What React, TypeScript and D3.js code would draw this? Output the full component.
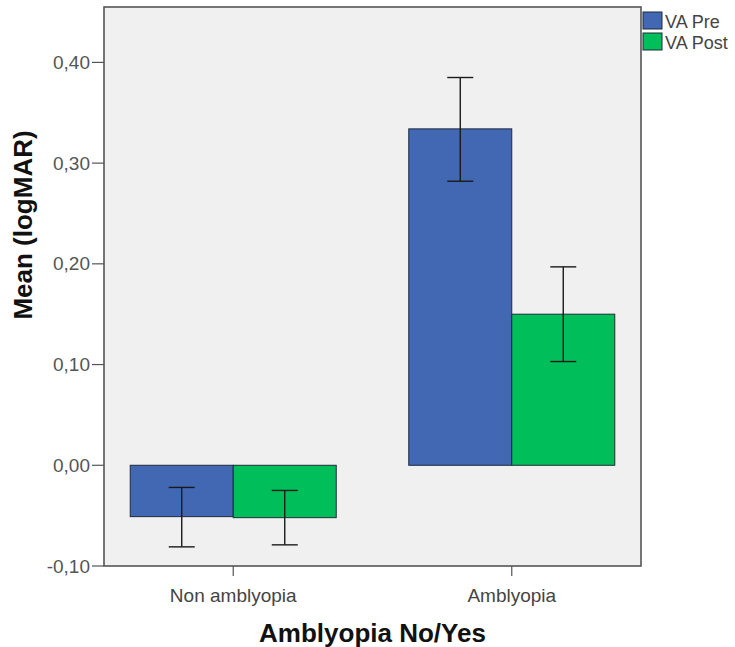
import React from "react";
import * as d3 from "d3";

const categories = ["Non amblyopia", "Amblyopia"];
const seriesNames = ["VA Pre", "VA Post"];
const vaPre = [-0.051, 0.334];
const vaPost = [-0.052, 0.15];
const vaPreLow = [-0.081, 0.282];
const vaPreHigh = [-0.022, 0.385];
const vaPostLow = [-0.079, 0.103];
const vaPostHigh = [-0.025, 0.197];
const yTicks = [-0.1, 0.0, 0.1, 0.2, 0.3, 0.4];
const colors = ["#4268b4", "#00be5a"];

const W = 735;
const H = 647;
const left = 104;
const right = 641;
const top = 7;
const bottom = 566;

const locale = d3.formatLocale({ decimal: ",", thousands: ".", grouping: [3], currency: ["", "€"], minus: "-" });
const fmt = locale.format(".2f");

export default function App() {
  const x = d3.scalePoint<string>().domain(categories).range([left, right]).padding(0.464);
  const y = d3.scaleLinear().domain([-0.1, 0.455]).range([bottom, top]);
  const barW = 103;
  const capW = 26;
  const series = [
    { name: seriesNames[0], vals: vaPre, lo: vaPreLow, hi: vaPreHigh, color: colors[0], off: -1 },
    { name: seriesNames[1], vals: vaPost, lo: vaPostLow, hi: vaPostHigh, color: colors[1], off: 0 },
  ];
  const font = "Arial, 'Liberation Sans', sans-serif";
  return (
    <svg width={W} height={H} style={{ position: "absolute", left: 0, top: 0, background: "#fff" }}>
      <rect x={left} y={top} width={right - left} height={bottom - top} fill="#f0f0f0" stroke="none" />
      {series.map((s) =>
        categories.map((c, i) => {
          const x0 = (x(c) as number) + s.off * barW;
          const y0 = y(0);
          const yv = y(s.vals[i]);
          return (
            <rect
              key={s.name + c}
              x={x0}
              y={Math.min(y0, yv)}
              width={barW}
              height={Math.abs(yv - y0)}
              fill={s.color}
              stroke="#1f2a3a"
              strokeWidth={1}
            />
          );
        })
      )}
      {series.map((s) =>
        categories.map((c, i) => {
          const cx = (x(c) as number) + s.off * barW + barW / 2;
          return (
            <g key={"e" + s.name + c} stroke="#1a1a1a" strokeWidth={1.4}>
              <line x1={cx} x2={cx} y1={y(s.lo[i])} y2={y(s.hi[i])} />
              <line x1={cx - capW / 2} x2={cx + capW / 2} y1={y(s.lo[i])} y2={y(s.lo[i])} />
              <line x1={cx - capW / 2} x2={cx + capW / 2} y1={y(s.hi[i])} y2={y(s.hi[i])} />
            </g>
          );
        })
      )}
      <rect x={left} y={top} width={right - left} height={bottom - top} fill="none" stroke="#555" strokeWidth={1.6} />
      {yTicks.map((t) => (
        <g key={"yt" + t}>
          <line x1={left - 12} x2={left} y1={y(t)} y2={y(t)} stroke="#555" strokeWidth={1.2} />
          <text x={left - 14} y={y(t)} dy="0.35em" textAnchor="end" fontFamily={font} fontSize={19} fill="#555">
            {fmt(t)}
          </text>
        </g>
      ))}
      {categories.map((c) => (
        <g key={"xt" + c}>
          <line x1={x(c)} x2={x(c)} y1={bottom} y2={bottom + 10} stroke="#555" strokeWidth={1.2} />
          <text x={x(c)} y={602} textAnchor="middle" fontFamily={font} fontSize={19} fill="#444">
            {c}
          </text>
        </g>
      ))}
      <text x={(left + right) / 2} y={642} textAnchor="middle" fontFamily={font} fontSize={26} fontWeight="bold" fill="#111">
        Amblyopia No/Yes
      </text>
      <text
        transform={`translate(32,225) rotate(-90)`}
        textAnchor="middle"
        fontFamily={font}
        fontSize={26}
        fontWeight="bold"
        fill="#111"
      >
        Mean (logMAR)
      </text>
      {series.map((s, i) => (
        <g key={"lg" + s.name}>
          <rect x={643} y={12 + i * 21} width={19} height={17} fill={s.color} stroke="#1f2a3a" strokeWidth={1} />
          <text x={665} y={28 + i * 21} fontFamily={font} fontSize={18} fill="#444">
            {s.name}
          </text>
        </g>
      ))}
    </svg>
  );
}
